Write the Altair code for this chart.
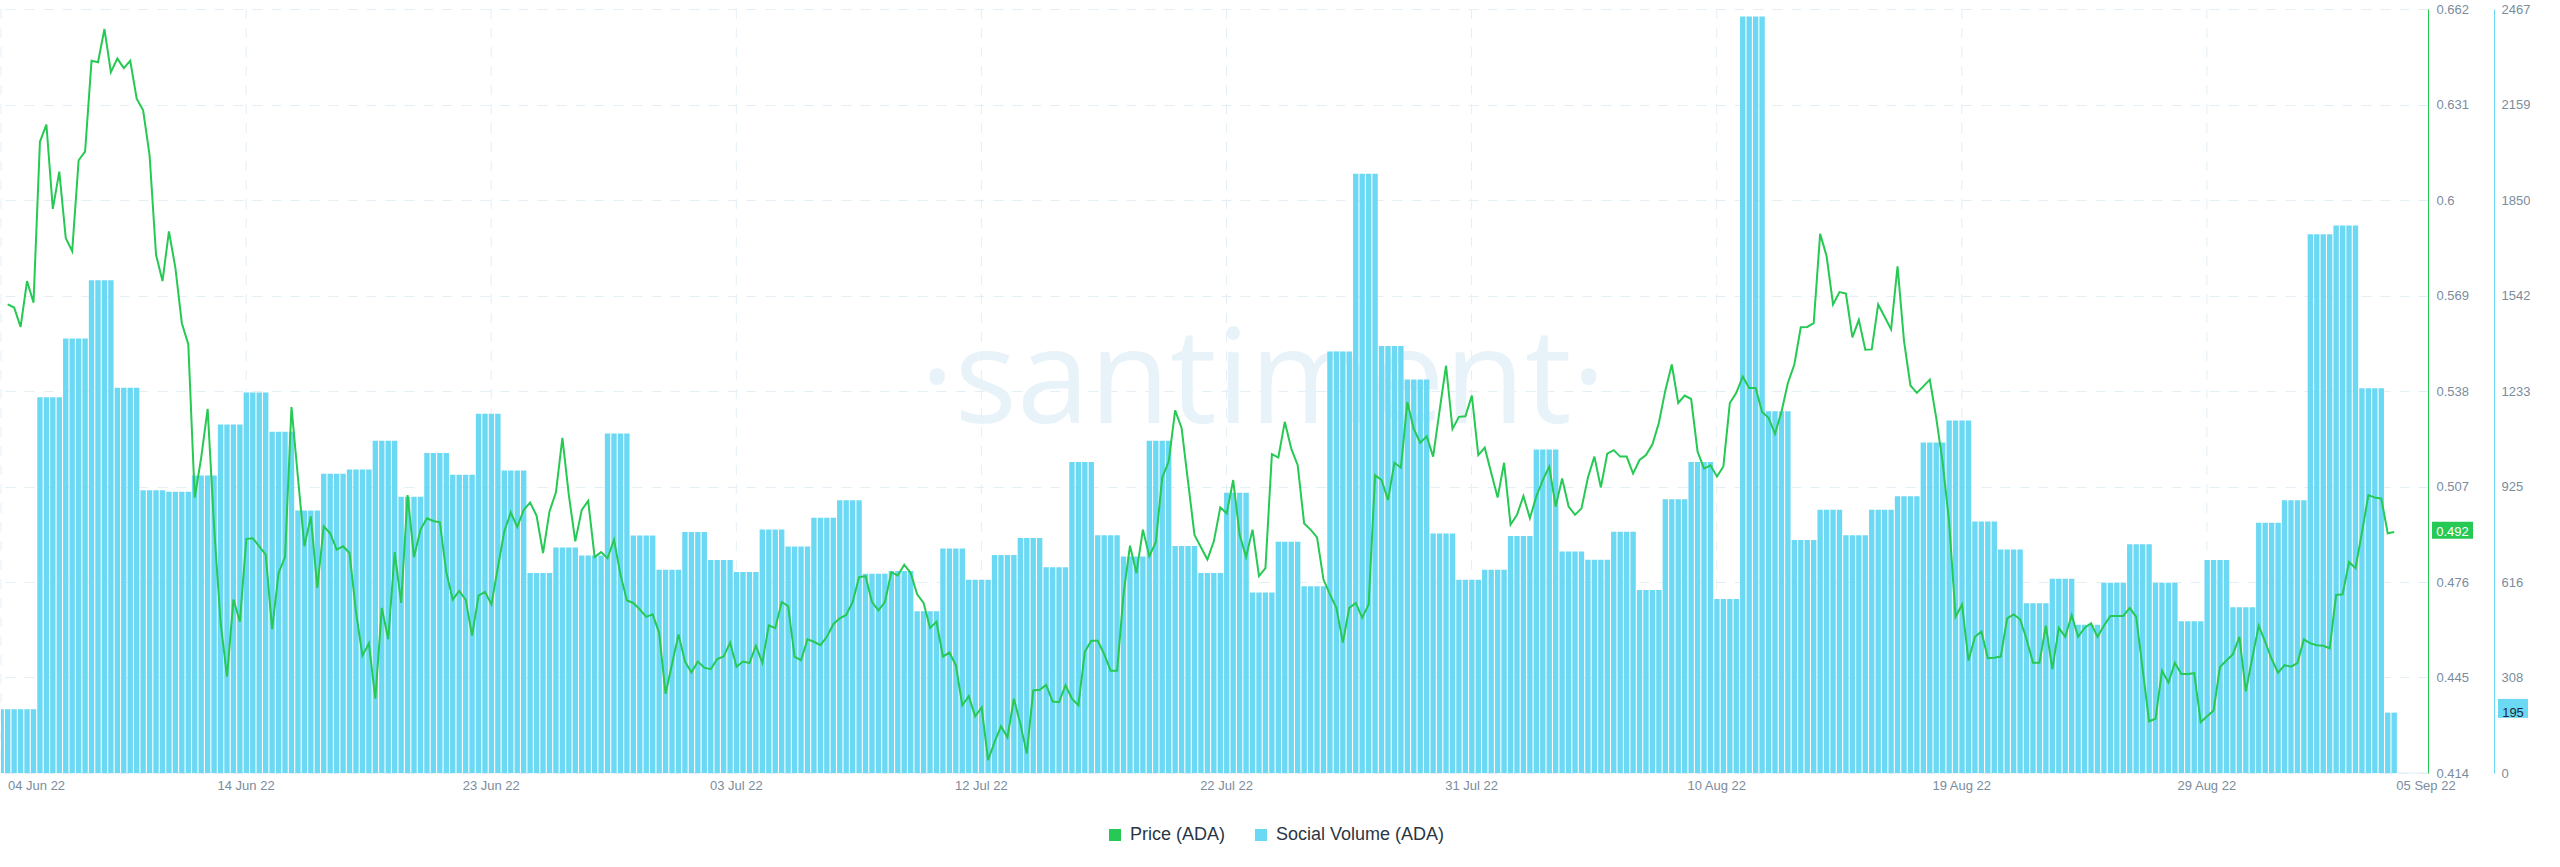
from datetime import datetime, timezone

import altair as alt
import pandas as pd

# ---------------- data ----------------
# ADA price, one value every 6 hours (first = last 6h slot of 3 Jun, last = 4 Sep 06:00 slot)
PRICE = [
    0.5661, 0.5651, 0.5588, 0.5737, 0.5667, 0.6189, 0.6245, 0.5971, 0.6092, 0.5877,
    0.5834, 0.6129, 0.6157, 0.6452, 0.6447, 0.6555, 0.6415, 0.6459, 0.6428, 0.6452,
    0.6329, 0.6291, 0.6145, 0.5822, 0.5737, 0.5898, 0.5780, 0.5600, 0.5532, 0.5034,
    0.5164, 0.5322, 0.4938, 0.4631, 0.4453, 0.4703, 0.4631, 0.4900, 0.4902, 0.4876,
    0.4849, 0.4607, 0.4789, 0.4841, 0.5328, 0.5099, 0.4876, 0.4973, 0.4741, 0.4941,
    0.4918, 0.4865, 0.4876, 0.4854, 0.4663, 0.4521, 0.4561, 0.4381, 0.4676, 0.4574,
    0.4857, 0.4692, 0.5042, 0.4841, 0.4930, 0.4967, 0.4958, 0.4954, 0.4792, 0.4703,
    0.4731, 0.4703, 0.4586, 0.4716, 0.4728, 0.4687, 0.4808, 0.4925, 0.4986, 0.4938,
    0.4994, 0.5018, 0.4975, 0.4854, 0.4989, 0.5051, 0.5228, 0.5042, 0.4892, 0.4994,
    0.5023, 0.4841, 0.4857, 0.4837, 0.4897, 0.4784, 0.4700, 0.4692, 0.4671, 0.4647,
    0.4655, 0.4595, 0.4397, 0.4494, 0.4590, 0.4502, 0.4466, 0.4502, 0.4482, 0.4477,
    0.4510, 0.4518, 0.4563, 0.4485, 0.4502, 0.4497, 0.4553, 0.4498, 0.4619, 0.4610,
    0.4695, 0.4682, 0.4518, 0.4506, 0.4574, 0.4566, 0.4555, 0.4582, 0.4623, 0.4642,
    0.4653, 0.4695, 0.4776, 0.4779, 0.4695, 0.4668, 0.4695, 0.4792, 0.4781, 0.4816,
    0.4789, 0.4720, 0.4692, 0.4611, 0.4631, 0.4518, 0.4531, 0.4490, 0.4360, 0.4389,
    0.4324, 0.4353, 0.4182, 0.4240, 0.4292, 0.4256, 0.4381, 0.4300, 0.4203, 0.4408,
    0.4410, 0.4426, 0.4372, 0.4370, 0.4425, 0.4381, 0.4360, 0.4534, 0.4569, 0.4569,
    0.4526, 0.4472, 0.4472, 0.4720, 0.4878, 0.4789, 0.4930, 0.4844, 0.4889, 0.5099,
    0.5151, 0.5317, 0.5260, 0.5086, 0.4913, 0.4873, 0.4833, 0.4892, 0.5002, 0.4983,
    0.5091, 0.4913, 0.4841, 0.4930, 0.4779, 0.4805, 0.5175, 0.5164, 0.5280, 0.5193,
    0.5139, 0.4950, 0.4930, 0.4905, 0.4768, 0.4720, 0.4676, 0.4563, 0.4676, 0.4692,
    0.4644, 0.4687, 0.5107, 0.5091, 0.5026, 0.5147, 0.5131, 0.5344, 0.5257, 0.5212,
    0.5233, 0.5167, 0.5317, 0.5462, 0.5257, 0.5296, 0.5298, 0.5365, 0.5172, 0.5196,
    0.5115, 0.5034, 0.5147, 0.4946, 0.4978, 0.5039, 0.4967, 0.5038, 0.5091, 0.5135,
    0.5005, 0.5096, 0.5005, 0.4978, 0.4999, 0.5099, 0.5167, 0.5067, 0.5177, 0.5188,
    0.5167, 0.5167, 0.5112, 0.5156, 0.5172, 0.5207, 0.5277, 0.5382, 0.5466, 0.5341,
    0.5365, 0.5354, 0.5183, 0.5128, 0.5139, 0.5102, 0.5135, 0.5341, 0.5374, 0.5427,
    0.5390, 0.5390, 0.5312, 0.5293, 0.5241, 0.5312, 0.5406, 0.5466, 0.5587, 0.5588,
    0.5600, 0.5890, 0.5818, 0.5661, 0.5701, 0.5696, 0.5554, 0.5611, 0.5514, 0.5515,
    0.5661, 0.5621, 0.5580, 0.5785, 0.5543, 0.5398, 0.5374, 0.5395, 0.5417, 0.5293,
    0.5147, 0.4954, 0.4647, 0.4687, 0.4505, 0.4582, 0.4599, 0.4513, 0.4514, 0.4518,
    0.4642, 0.4655, 0.4639, 0.4574, 0.4498, 0.4498, 0.4618, 0.4477, 0.4611, 0.4582,
    0.4652, 0.4582, 0.4611, 0.4626, 0.4582, 0.4618, 0.4650, 0.4650, 0.4650, 0.4676,
    0.4647, 0.4477, 0.4308, 0.4316, 0.4472, 0.4434, 0.4497, 0.4461, 0.4461, 0.4464,
    0.4305, 0.4324, 0.4343, 0.4485, 0.4505, 0.4526, 0.4582, 0.4405, 0.4514, 0.4618,
    0.4566, 0.4510, 0.4466, 0.4490, 0.4485, 0.4497, 0.4574, 0.4561, 0.4555, 0.4553,
    0.4545, 0.4718, 0.4720, 0.4825, 0.4805, 0.4921, 0.5042, 0.5034, 0.5031, 0.4918,
    0.4922,
]

# ADA social volume, one value per day, 3 Jun .. 4 Sep (last day partial)
SOCIAL_VOLUME = [
    206, 206, 1213, 1403, 1591, 1244, 913, 908, 961, 1125, 1229, 1102, 848, 966, 980, 1073, 892,
    1033, 963, 1160, 977, 646, 728, 702, 1096, 767, 656, 778, 688, 649, 786, 731,
    824, 881, 643, 652, 522, 725, 624, 704, 759, 664, 1004, 768, 699, 1073, 733, 646,
    905, 583, 747, 603, 1361, 1935, 1379, 1271, 773, 624, 656, 765, 1045, 715, 689,
    779, 591, 884, 1004, 562, 2443, 1168, 752, 850, 768, 850, 894, 1067, 1138, 812, 722,
    548, 627, 479, 614, 739, 614, 490, 688, 535, 808, 881, 1740, 1768, 1242, 195,
]

X_LABELS = ["04 Jun 22", "14 Jun 22", "23 Jun 22", "03 Jul 22", "12 Jul 22", "22 Jul 22",
            "31 Jul 22", "10 Aug 22", "19 Aug 22", "29 Aug 22", "05 Sep 22"]
PRICE_TICKS = [0.414, 0.445, 0.476, 0.507, 0.538, 0.569, 0.6, 0.631, 0.662]
VOLUME_TICKS = [0, 308, 616, 925, 1233, 1542, 1850, 2159, 2467]
SERIES = ["Price (ADA)", "Social Volume (ADA)"]

# ---------------- styling / geometry ----------------
GREEN = "#26c953"
BLUE = "#6cd9f4"
GRID = "#e3eff6"
AXIS_TEXT = "#7b8c9c"
FONT = "Liberation Sans"
W, H = 2427, 764

HOUR = 3600000
PX_PER_HOUR = 25.8 / 24
DAY0 = int(datetime(2022, 6, 4, tzinfo=timezone.utc).timestamp() * 1000)
DOM_START = DAY0 - round(10.45 / PX_PER_HOUR * HOUR)
DOM_END = DOM_START + round(W / PX_PER_HOUR * HOUR)
TICK_STEP = 228 * HOUR
TICKS = [DOM_START + k * TICK_STEP for k in range(10)]
ALL_TICKS = TICKS + [DOM_START + round(2425 / PX_PER_HOUR * HOUR)]

# ---------------- tables ----------------
price_df = pd.DataFrame({
    "t": [DAY0 + (j - 1) * 6 * HOUR + int(2.5 * HOUR) for j in range(len(PRICE))],
    "price": PRICE,
    "series": SERIES[0],
})
last_bar_start = DAY0 + (len(PRICE) - 2) * 6 * HOUR
rows = []
for d, v in enumerate(SOCIAL_VOLUME):
    for q in range(4):
        t = DAY0 + (d - 1) * 24 * HOUR + q * 6 * HOUR
        if t <= last_bar_start:
            rows.append({"t": t, "t2": t + 5 * HOUR, "volume": v, "series": SERIES[1]})
vol_df = pd.DataFrame(rows)
grid_df = pd.DataFrame({"t": TICKS})
xlab_df = pd.DataFrame({"t": ALL_TICKS, "label": X_LABELS})
last_price_df = price_df.tail(1)
last_vol_df = vol_df.tail(1)

xscale = alt.Scale(type="utc", domain=[DOM_START, DOM_END], nice=False)
color_scale = alt.Scale(domain=SERIES, range=[GREEN, BLUE])


def xenc():
    return alt.X("t:T", scale=xscale, axis=None)


def price_scale():
    return alt.Scale(domain=[PRICE_TICKS[0], PRICE_TICKS[-1]], nice=False, zero=False)


def vol_scale():
    return alt.Scale(domain=[VOLUME_TICKS[0], VOLUME_TICKS[-1]], nice=False, zero=True)


watermark = alt.Chart(pd.DataFrame({"txt": ["\u00b7santiment\u00b7"]})).mark_text(
    font="Open Sans", fontWeight="normal", fontSize=131, color="#e8f3f9", align="center",
    baseline="alphabetic",
).encode(x=alt.value(1262), y=alt.value(414), text="txt:N")

vgrid = alt.Chart(grid_df).mark_rule(color=GRID, strokeWidth=1, strokeDash=[10, 9]).encode(
    x=xenc()
)

# x-axis baseline and tick labels
xdomain = alt.Chart(grid_df.head(1)).mark_rule(color="#dfeef6", strokeWidth=1).encode(
    x=alt.value(0), x2=alt.value(W), y=alt.value(H)
)
xlab_first = alt.Chart(xlab_df.head(1)).mark_text(
    font=FONT, fontSize=13, color=AXIS_TEXT, align="left", baseline="top", dx=7
).encode(x=xenc(), y=alt.value(H + 7), text="label:N")
xlab_rest = alt.Chart(xlab_df.iloc[1:]).mark_text(
    font=FONT, fontSize=13, color=AXIS_TEXT, align="center", baseline="top"
).encode(x=xenc(), y=alt.value(H + 7), text="label:N")

bars = alt.Chart(vol_df).mark_bar(clip=True).encode(
    x=xenc(),
    x2="t2:T",
    y=alt.Y("volume:Q", scale=vol_scale(), axis=alt.Axis(
        orient="right", offset=66, values=VOLUME_TICKS, format="d", grid=False, ticks=False,
        title=None, domainColor=BLUE, labelPadding=7, labelFontSize=13, labelColor=AXIS_TEXT,
        labelFont=FONT, labelFlush=False, labelOverlap=False)),
    y2=alt.datum(0),
    color=alt.Color("series:N", scale=color_scale, legend=alt.Legend(
        title=None, orient="none", legendX=1105, legendY=817, direction="horizontal",
        symbolType="square", symbolSize=144, symbolStrokeWidth=0, labelFontSize=18,
        labelLimit=400, labelFont=FONT, labelColor="#2a3644", labelOffset=6,
        columnPadding=26, padding=0)),
)

vol_badge = alt.Chart(last_vol_df).mark_bar(height=19, color=BLUE).encode(
    x=alt.value(2497), x2=alt.value(2527),
    y=alt.Y("volume:Q", scale=vol_scale(), axis=None),
)
vol_badge_text = alt.Chart(last_vol_df).mark_text(
    color="#1d2a36", fontSize=13, font=FONT, align="center", baseline="middle"
).encode(x=alt.value(2512), y=alt.Y("volume:Q", scale=vol_scale(), axis=None),
         text="volume:Q")

line = alt.Chart(price_df).mark_line(strokeWidth=2).encode(
    x=xenc(),
    y=alt.Y("price:Q", scale=price_scale(), axis=alt.Axis(
        orient="right", offset=0, values=PRICE_TICKS, format=".3~f", grid=True,
        gridColor=GRID, gridDash=[10, 9], gridWidth=1, ticks=False, title=None,
        domainColor=GREEN, labelPadding=8, labelFontSize=13, labelColor=AXIS_TEXT,
        labelFont=FONT, labelFlush=False, labelOverlap=False)),
    color=alt.Color("series:N", scale=color_scale, legend=None),
)

price_badge = alt.Chart(last_price_df).mark_bar(height=17, color=GREEN).encode(
    x=alt.value(2431), x2=alt.value(2472),
    y=alt.Y("price:Q", scale=price_scale(), axis=None),
)
price_badge_text = alt.Chart(last_price_df).mark_text(
    color="white", fontSize=13, font=FONT, align="center", baseline="middle"
).encode(x=alt.value(2451.5), y=alt.Y("price:Q", scale=price_scale(), axis=None),
         text=alt.Text("price:Q", format=".3f"))

chart = alt.layer(
    watermark, vgrid, xdomain, xlab_first, xlab_rest, bars, vol_badge, vol_badge_text,
    line, price_badge, price_badge_text
).resolve_scale(
    y="independent"
).properties(
    width=W, height=H, padding={"left": 0, "top": 3, "right": 0, "bottom": 0},
    background="white",
).configure_view(stroke=None)

chart.save("out.html", embed_options={"renderer": "svg", "actions": False})
